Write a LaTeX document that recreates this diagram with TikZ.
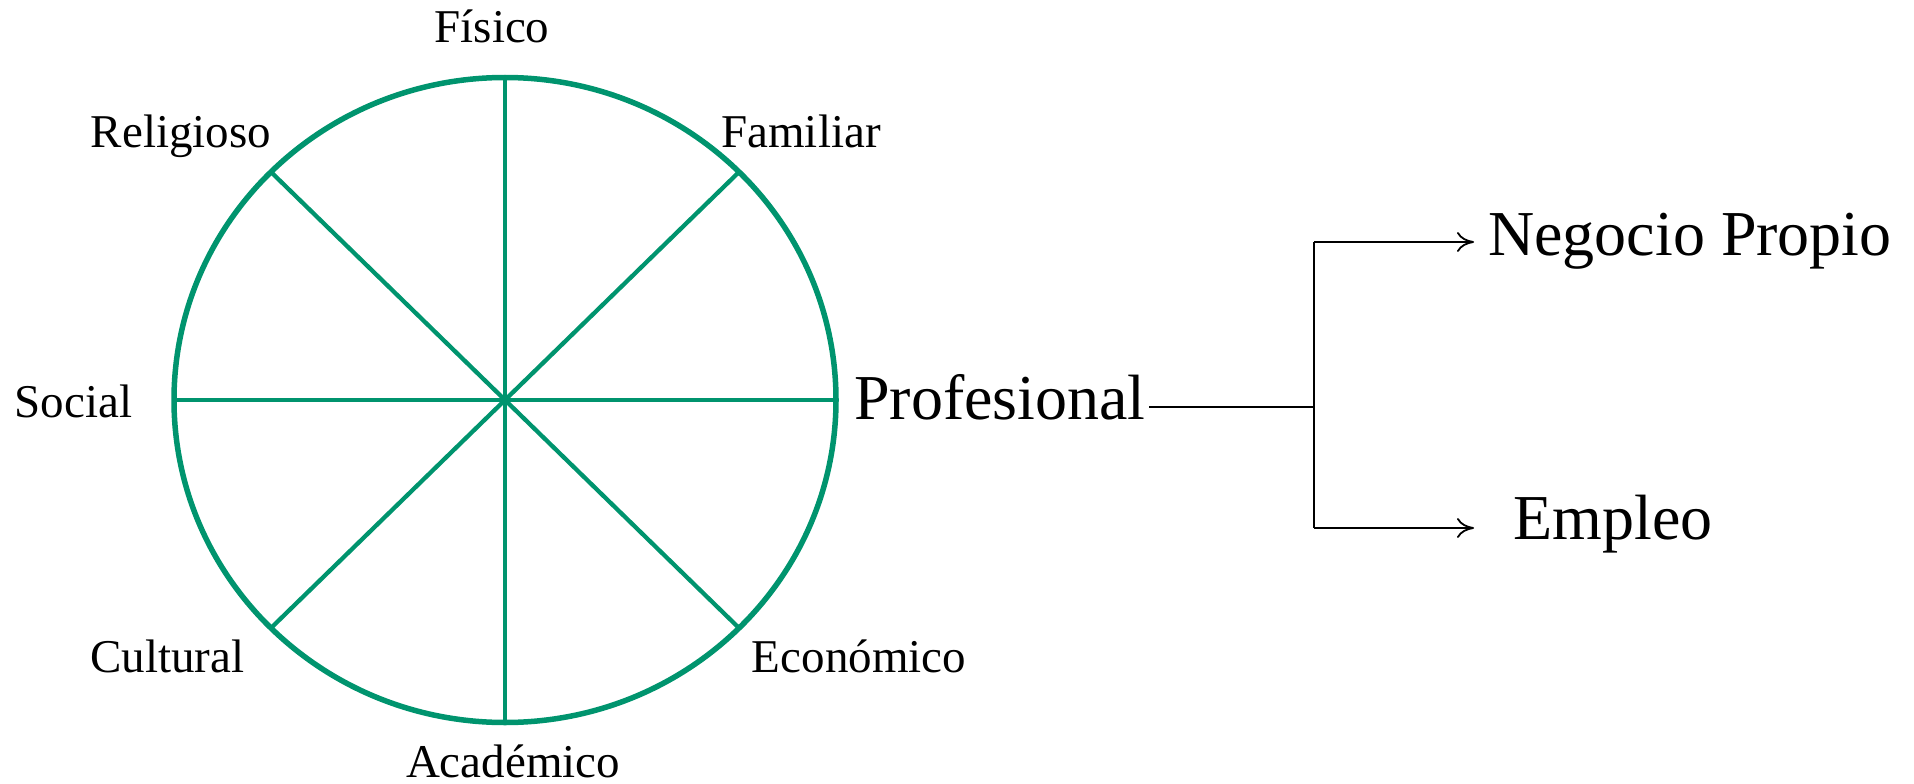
\documentclass[tikz,border=0pt]{standalone}
\usepackage{fontspec}
\setmainfont{Liberation Serif}
\usetikzlibrary{arrows.meta,calc}
\definecolor{wheelgreen}{RGB}{0,148,110}
\begin{document}
\begin{tikzpicture}[x=1pt,y=-1pt,
  small/.style={inner sep=0pt,anchor=base,font=\fontsize{47}{50}\selectfont},
  big/.style={inner sep=0pt,anchor=base,font=\fontsize{64}{70}\selectfont},
  rim/.style={draw=wheelgreen,line width=5.5pt},
  spoke/.style={draw=wheelgreen,line width=4.3pt},
  conn/.style={draw=black,line width=1.8pt},
  arr/.style={conn,-{To[length=17pt,width=20pt,line width=1.8pt]}}]
\useasboundingbox (0,0) rectangle (1914,784);
\coordinate (c) at (505,400);
\draw[rim] (c) ellipse [x radius=331pt, y radius=322.5pt];
\foreach \a in {0,45,...,315}
  \draw[spoke] (c) -- ([shift={(\a:331pt and 322.5pt)}]c);
\node[small] (fis) at (492,42.5) {Físico};
\node[small] (rel) at (181,147.5) {Religioso};
\node[small] (fam) at (801,147.5) {Familiar};
\node[small] (soc) at (73.5,417.5) {Social};
\node[small] (cul) at (167.5,672.5) {Cultural};
\node[small] (eco) at (859,672.5) {Económico};
\node[small] (aca) at (513,777.5) {Académico};
\node[big] (prof) at (1000,419) {Profesional};
\node[big] (np) at (1690,255) {Negocio Propio};
\node[big] (emp) at (1613,539) {Empleo};
\coordinate (ps) at (1149,407);
\coordinate (jm) at (1314,407);
\coordinate (jt) at (1314,242);
\coordinate (jb) at (1314,528);
\coordinate (tt) at (1474,242);
\coordinate (tb) at (1474,528);
\draw[conn] (ps) -- (jm);
\draw[conn] (jt) -- (jb);
\draw[arr] (jt) -- (tt);
\draw[arr] (jb) -- (tb);
\end{tikzpicture}
\end{document}
